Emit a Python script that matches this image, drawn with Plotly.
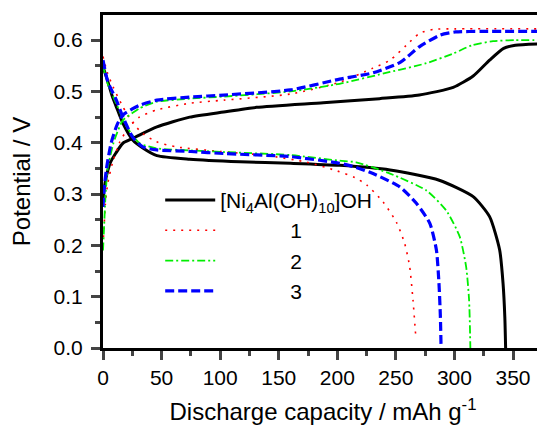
import plotly.graph_objects as go

# ---- data ----
black_chg_x = [0, 1, 2, 4, 6, 11, 17, 25, 31, 46, 74, 103, 131, 188, 236, 270, 299, 316, 330, 342, 352, 375]
black_chg_y = [0.29, 0.31, 0.325, 0.345, 0.36, 0.38, 0.399, 0.408, 0.415, 0.431, 0.45, 0.46, 0.469, 0.478, 0.486, 0.493, 0.508, 0.53, 0.561, 0.584, 0.590, 0.593]
black_dis_x = [0, 4, 8, 11.4, 17, 25.6, 34, 46, 74, 117, 160, 202, 245, 287, 316, 330, 338.6, 341.5, 343, 343.7]
black_dis_y = [0.548, 0.52, 0.49, 0.47, 0.438, 0.405, 0.39, 0.375, 0.368, 0.363, 0.36, 0.356, 0.347, 0.327, 0.295, 0.256, 0.191, 0.126, 0.061, 0.0]

red_chg_x = [0, 1, 2, 4, 8, 14, 22, 31, 46, 74, 103, 160, 202, 230, 245, 259, 270, 282, 300, 375]
red_chg_y = [0.20, 0.24, 0.28, 0.32, 0.36, 0.40, 0.43, 0.45, 0.464, 0.477, 0.483, 0.495, 0.518, 0.545, 0.561, 0.59, 0.613, 0.621, 0.622, 0.622]
red_dis_x = [0, 4, 8.6, 17, 25.6, 34, 45.5, 62.5, 100, 140, 174, 200, 215, 225, 239, 250.5, 257.5, 261.8, 264.6, 267]
red_dis_y = [0.568, 0.535, 0.509, 0.47, 0.438, 0.418, 0.402, 0.392, 0.383, 0.375, 0.362, 0.345, 0.332, 0.318, 0.285, 0.245, 0.204, 0.158, 0.094, 0.022]

green_chg_x = [0, 1, 2, 4, 9, 13, 17, 25, 31, 46, 74, 103, 160, 202, 245, 276, 299, 315, 333, 352, 375]
green_chg_y = [0.19, 0.24, 0.29, 0.35, 0.40, 0.425, 0.444, 0.458, 0.467, 0.48, 0.486, 0.49, 0.5, 0.515, 0.538, 0.555, 0.574, 0.590, 0.598, 0.600, 0.600]
green_dis_x = [0, 4, 11.4, 20, 31.3, 46, 75, 103, 160, 202, 216, 245, 276, 293, 304.5, 310, 312.5, 313.6]
green_dis_y = [0.55, 0.515, 0.476, 0.432, 0.399, 0.389, 0.385, 0.382, 0.376, 0.365, 0.362, 0.34, 0.307, 0.268, 0.217, 0.158, 0.094, 0.0]

blue_chg_x = [0, 1, 3, 7, 12, 17, 25, 31, 46, 74, 103, 160, 202, 230, 254, 270, 288, 301, 323, 375]
blue_chg_y = [0.275, 0.31, 0.35, 0.40, 0.435, 0.454, 0.466, 0.473, 0.483, 0.489, 0.493, 0.503, 0.524, 0.536, 0.557, 0.587, 0.610, 0.616, 0.617, 0.617]
blue_dis_x = [0, 4, 11.4, 17, 25.6, 34, 46, 75, 103, 160, 202, 216, 230.5, 253.3, 267.5, 279, 284.6, 286.8, 288, 288.6]
blue_dis_y = [0.561, 0.52, 0.483, 0.45, 0.41, 0.392, 0.386, 0.383, 0.379, 0.373, 0.36, 0.352, 0.34, 0.314, 0.282, 0.243, 0.191, 0.126, 0.061, 0.0]

NB = "\u00a0"
names = ["[Ni<sub>4</sub>Al(OH)<sub>10</sub>]OH", NB * 12 + "1", NB * 12 + "2", NB * 12 + "3"]
x_ticks = [0, 50, 100, 150, 200, 250, 300, 350]
y_ticks = [0.0, 0.1, 0.2, 0.3, 0.4, 0.5, 0.6]

series = [
    (names[0], black_chg_x, black_chg_y, black_dis_x, black_dis_y, "black", "solid", 3),
    (names[1], red_chg_x, red_chg_y, red_dis_x, red_dis_y, "#ff0000", "2px,6px", 1.6),
    (names[2], green_chg_x, green_chg_y, green_dis_x, green_dis_y, "#00ee00", "8px,3px,2px,3px", 1.8),
    (names[3], blue_chg_x, blue_chg_y, blue_dis_x, blue_dis_y, "#0000ff", "9px,4px", 3.2),
]

fig = go.Figure()
for i, (nm, cx, cy, dx, dy, col, dash, w) in enumerate(series):
    fig.add_trace(go.Scatter(x=cx, y=cy, mode="lines", name=nm, legendgroup=str(i),
                             line=dict(color=col, dash=dash, width=w, shape="spline", smoothing=0.6)))
    fig.add_trace(go.Scatter(x=dx, y=dy, mode="lines", name=nm, legendgroup=str(i), showlegend=False,
                             line=dict(color=col, dash=dash, width=w, shape="spline", smoothing=0.6)))

font = "Arial, Liberation Sans, sans-serif"
fig.update_layout(
    width=537, height=417,
    margin=dict(l=95, r=2, t=7, b=77),
    paper_bgcolor="white", plot_bgcolor="white",
    font=dict(family=font, color="black"),
    showlegend=True,
    legend=dict(x=0.13, y=0.505, xanchor="left", yanchor="top", bgcolor="rgba(0,0,0,0)",
                itemwidth=50, font=dict(size=21, family=font), tracegroupgap=0),
    xaxis=dict(range=[0, 375.6], tickvals=x_ticks, ticks="outside", ticklen=9, tickwidth=2.5,
               showline=True, linewidth=3, linecolor="black", mirror=True, showgrid=False, zeroline=False,
               automargin=False, ticklabelstandoff=0,
               tickfont=dict(size=21), minor=dict(ticks="outside", ticklen=5, tickwidth=2.5, dtick=25),
               title=dict(text="Discharge capacity / mAh g<sup>-1</sup>", font=dict(size=24), standoff=16)),
    yaxis=dict(range=[0, 0.649], tickvals=y_ticks, tickformat=".1f", ticks="outside", ticklen=9, tickwidth=2.5,
               showline=True, linewidth=3, linecolor="black", mirror=True, showgrid=False, zeroline=False,
               automargin=False, ticklabelstandoff=4,
               tickfont=dict(size=21), minor=dict(ticks="outside", ticklen=5, tickwidth=2.5, dtick=0.05),
               title=dict(text="Potential / V", font=dict(size=24), standoff=20)),
)
fig.write_html("out.html")
